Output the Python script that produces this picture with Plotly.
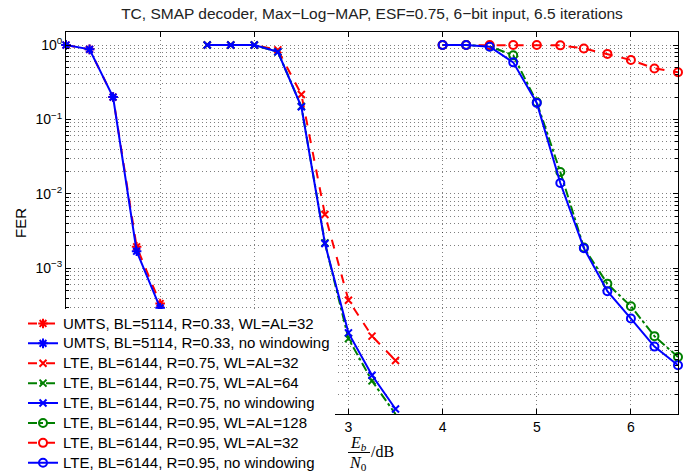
import plotly.graph_objects as go

# ---------------- data ----------------
x_umts = [0.0, 0.25, 0.5, 0.75, 1.0]
umts_wl32 = [1.0, 0.875, 0.2, 1.95e-3, 3.37e-4]
umts_nowin = [1.0, 0.875, 0.2, 1.7e-3, 2.95e-4]

x_lte75 = [1.5, 1.75, 2.0, 2.25, 2.5, 2.75, 3.0, 3.25, 3.5]
lte75_wl32 = [1.0, 1.0, 1.0, 0.86, 0.217, 5.3e-3, 3.74e-4, 1.23e-4, 5.8e-5]
lte75_wl64 = [1.0, 1.0, 1.0, 0.81, 0.15, 2.2e-3, 1.14e-4, 3.08e-5, 1.1e-5]
lte75_nowin = [1.0, 1.0, 1.0, 0.81, 0.148, 2.16e-3, 1.36e-4, 3.67e-5, 1.29e-5]

x_lte95 = [4.0, 4.25, 4.5, 4.75, 5.0, 5.25, 5.5, 5.75, 6.0, 6.25, 6.5]
lte95_wl128 = [1.0, 1.0, 0.96, 0.73, 0.17, 1.97e-2, 1.9e-3, 6.2e-4, 3.1e-4, 1.23e-4, 6.45e-5]
lte95_wl32 = [1.0, 1.0, 1.0, 1.0, 1.0, 0.99, 0.9, 0.76, 0.63, 0.485, 0.43]
lte95_nowin = [1.0, 1.0, 0.95, 0.585, 0.167, 1.4e-2, 1.87e-3, 4.94e-4, 2.12e-4, 8.9e-5, 5.0e-5]

names = [
    "UMTS, BL=5114, R=0.33, WL=AL=32",
    "UMTS, BL=5114, R=0.33, no windowing",
    "LTE, BL=6144, R=0.75, WL=AL=32",
    "LTE, BL=6144, R=0.75, WL=AL=64",
    "LTE, BL=6144, R=0.75, no windowing",
    "LTE, BL=6144, R=0.95, WL=AL=128",
    "LTE, BL=6144, R=0.95, WL=AL=32",
    "LTE, BL=6144, R=0.95, no windowing",
]

# tick labels 0-2 and 10^-4 are hidden behind the legend in the reference
x_tickvals = [0, 1, 2, 3, 4, 5, 6]
x_ticktext = ["", "", "", "3", "4", "5", "6"]
y_tickvals = [1, 1e-1, 1e-2, 1e-3, 1e-4]
y_ticktext = ["10<sup>0</sup>", "10<sup>−1</sup>", "10<sup>−2</sup>",
              "10<sup>−3</sup>", ""]

title_text = "TC, SMAP decoder, Max−Log−MAP, ESF=0.75, 6−bit input, 6.5 iterations"

RED = "#ff0000"
BLUE = "#0000ff"
GREEN = "#008000"
SANS = "Liberation Sans, Arial, Helvetica, sans-serif"
SERIF = "Liberation Serif, Times New Roman, serif"

series = [
    (x_umts, umts_wl32, names[0], RED, "dash", "asterisk-open", 8),
    (x_umts, umts_nowin, names[1], BLUE, "solid", "asterisk-open", 8),
    (x_lte75, lte75_wl32, names[2], RED, "dash", "x-thin-open", 7),
    (x_lte75, lte75_wl64, names[3], GREEN, "dashdot", "x-thin-open", 7),
    (x_lte75, lte75_nowin, names[4], BLUE, "solid", "x-thin-open", 7),
    (x_lte95, lte95_wl128, names[5], GREEN, "dashdot", "circle-open", 8),
    (x_lte95, lte95_wl32, names[6], RED, "dash", "circle-open", 8),
    (x_lte95, lte95_nowin, names[7], BLUE, "solid", "circle-open", 8),
]

fig = go.Figure()
for xs, ys, nm, col, dash, sym, msz in series:
    fig.add_trace(go.Scatter(
        x=xs, y=ys, name='<span style="font-size:15px">' + nm + '</span>',
        mode="lines+markers",
        line=dict(color=col, width=2, dash=dash),
        marker=dict(symbol=sym, size=msz, color=col, line=dict(color=col, width=2)),
        cliponaxis=False,
    ))

minor_vals = [m * 10 ** e for e in range(-5, 1) for m in range(2, 10)]

GRIDCOL = "rgba(0,0,0,0.5)"
axis_common = dict(
    showline=True, linecolor="black", linewidth=1, mirror="ticks",
    ticks="inside", tickcolor="black", ticklen=5, automargin=False,
    showgrid=True, gridcolor=GRIDCOL, griddash="1px,3px", gridwidth=1,
    zeroline=False,
    tickfont=dict(family=SANS, size=14, color="black"),
)

fig.update_xaxes(
    range=[0, 6.5], tickmode="array", tickvals=x_tickvals, ticktext=x_ticktext,
    **axis_common,
)
fig.update_yaxes(
    type="log", range=[-4.956, 0.175], tickmode="array",
    tickvals=y_tickvals, ticktext=y_ticktext,
    title=dict(text="FER", font=dict(family=SANS, size=15, color="black"), standoff=5),
    minor=dict(tickmode="array", tickvals=minor_vals, ticks="inside", ticklen=3,
               tickcolor="black", showgrid=True, gridcolor=GRIDCOL,
               griddash="1px,3px", gridwidth=1),
    **axis_common,
)

W, H = 697, 472
L, R, T, B = 66, 19, 32, 58
pw, ph = W - L - R, H - T - B


def px(xp):
    return (xp - L) / pw


def py(yp):
    return (H - B - yp) / ph


fig.add_annotation(text="<i>E<sub>b</sub></i>", xref="paper", yref="paper",
                   x=px(358), y=py(443), showarrow=False, xanchor="center", yanchor="middle",
                   font=dict(family=SERIF, size=16, color="black"))
fig.add_annotation(text="<i>N</i><sub>0</sub>", xref="paper", yref="paper",
                   x=px(358), y=py(463), showarrow=False, xanchor="center", yanchor="middle",
                   font=dict(family=SERIF, size=16, color="black"))
fig.add_annotation(text="/dB", xref="paper", yref="paper",
                   x=px(369), y=py(451), showarrow=False, xanchor="left", yanchor="middle",
                   font=dict(family=SERIF, size=16, color="black"))
fig.add_shape(type="line", xref="paper", yref="paper",
              x0=px(348), x1=px(370), y0=py(452.5), y1=py(452.5),
              line=dict(color="black", width=1))

fig.update_layout(
    width=W, height=H,
    margin=dict(l=L, r=R, t=T, b=B, autoexpand=False),
    paper_bgcolor="white", plot_bgcolor="white",
    title=dict(text=title_text, x=(L + pw / 2) / W, xanchor="center", y=1 - 14 / H, yanchor="middle",
               automargin=False,
               font=dict(family=SANS, size=15.5, color="#222222")),
    legend=dict(
        x=px(23), y=py(308.5), xanchor="left", yanchor="top",
        bgcolor="white", borderwidth=0, tracegroupgap=0,
        font=dict(family=SANS, size=13, color="black"),
    ),
    showlegend=True,
)

fig.write_html("out.html", config={"displayModeBar": False},
               post_script="document.body.style.margin='0px';document.body.style.overflow='hidden';")
